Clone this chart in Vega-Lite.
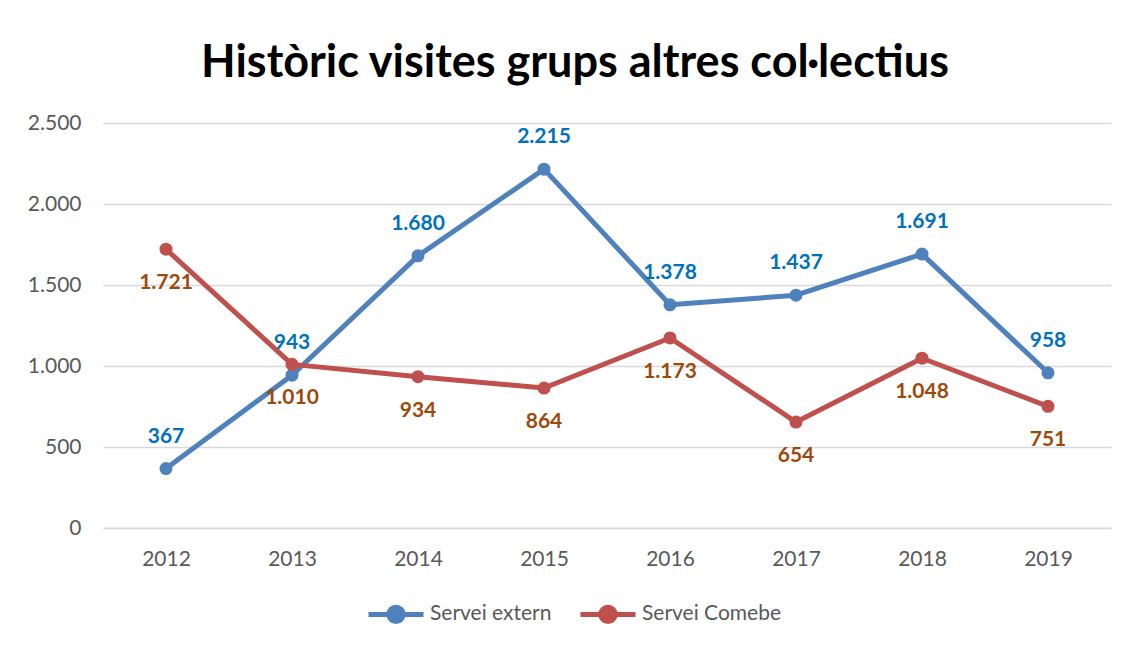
{
  "$schema": "https://vega.github.io/schema/vega-lite/v6.json",
  "width": 1008,
  "height": 405,
  "autosize": {"type": "none"},
  "padding": {"left": 103, "top": 123, "right": 20, "bottom": 118},
  "background": "white",
  "title": {
    "text": "Històric visites grups altres col·lectius",
    "font": "Lato",
    "fontSize": 45,
    "fontWeight": "bold",
    "color": "#000000",
    "anchor": "middle",
    "baseline": "alphabetic",
    "offset": -10,
    "dx": -32
  },
  "config": {
    "locale": {"number": {"decimal": ",", "thousands": ".", "grouping": [3], "currency": ["", " €"]}},
    "view": {"stroke": null},
    "font": "Lato"
  },
  "data": {
    "values": [
      {"year": "2012", "series": "Servei extern", "value": 367},
      {"year": "2013", "series": "Servei extern", "value": 943},
      {"year": "2014", "series": "Servei extern", "value": 1680},
      {"year": "2015", "series": "Servei extern", "value": 2215},
      {"year": "2016", "series": "Servei extern", "value": 1378},
      {"year": "2017", "series": "Servei extern", "value": 1437},
      {"year": "2018", "series": "Servei extern", "value": 1691},
      {"year": "2019", "series": "Servei extern", "value": 958},
      {"year": "2012", "series": "Servei Comebe", "value": 1721},
      {"year": "2013", "series": "Servei Comebe", "value": 1010},
      {"year": "2014", "series": "Servei Comebe", "value": 934},
      {"year": "2015", "series": "Servei Comebe", "value": 864},
      {"year": "2016", "series": "Servei Comebe", "value": 1173},
      {"year": "2017", "series": "Servei Comebe", "value": 654},
      {"year": "2018", "series": "Servei Comebe", "value": 1048},
      {"year": "2019", "series": "Servei Comebe", "value": 751}
    ]
  },
  "encoding": {
    "x": {
      "field": "year",
      "type": "ordinal",
      "scale": {"type": "point", "padding": 0.5},
      "axis": {
        "title": null,
        "labelAngle": 0,
        "ticks": false,
        "domain": true,
        "domainColor": "#d9d9d9",
        "domainWidth": 1.5,
        "labelPadding": 20,
        "labelFontSize": 21,
        "labelColor": "#595959",
        "labelFont": "Lato"
      }
    },
    "y": {
      "field": "value",
      "type": "quantitative",
      "scale": {"domain": [0, 2500]},
      "axis": {
        "title": null,
        "values": [0, 500, 1000, 1500, 2000, 2500],
        "format": ",d",
        "grid": true,
        "gridColor": "#d9d9d9",
        "gridWidth": 1.5,
        "domain": false,
        "ticks": false,
        "labelPadding": 22,
        "labelFontSize": 21,
        "labelColor": "#595959",
        "labelFont": "Lato"
      }
    },
    "color": {
      "field": "series",
      "type": "nominal",
      "sort": ["Servei extern", "Servei Comebe"],
      "scale": {"domain": ["Servei extern", "Servei Comebe"], "range": ["#4F81BD", "#C0504D"]},
      "legend": {
        "title": null,
        "orient": "none",
        "legendX": 263,
        "legendY": 461,
        "direction": "horizontal",
        "symbolType": "M-1,0H1M-0.26,0A0.26,0.26 0 1,0 0.26,0A0.26,0.26 0 1,0 -0.26,0Z",
        "symbolSize": 3025,
        "symbolStrokeWidth": 5,
        "labelFontSize": 21,
        "labelColor": "#595959",
        "labelFont": "Lato",
        "labelOffset": 4,
        "columnPadding": 18,
        "encode": {
          "symbols": {"update": {"fill": {"scale": "color", "field": "value"}, "stroke": {"scale": "color", "field": "value"}, "opacity": {"value": 1}}}
        }
      }
    }
  },
  "layer": [
    {"mark": {"type": "line", "strokeWidth": 5, "strokeCap": "round", "strokeJoin": "round"}},
    {"mark": {"type": "point", "filled": true, "size": 170, "opacity": 1}},
    {
      "transform": [{"filter": "datum.series === 'Servei extern'"}],
      "mark": {"type": "text", "dy": -32, "fontSize": 21, "fontWeight": "bold", "font": "Lato"},
      "encoding": {"text": {"field": "value", "type": "quantitative", "format": ",d"}, "color": {"value": "#0070C0"}}
    },
    {
      "transform": [{"filter": "datum.series === 'Servei Comebe'"}],
      "mark": {"type": "text", "dy": 34, "fontSize": 21, "fontWeight": "bold", "font": "Lato"},
      "encoding": {"text": {"field": "value", "type": "quantitative", "format": ",d"}, "color": {"value": "#9C4A0C"}}
    }
  ]
}
